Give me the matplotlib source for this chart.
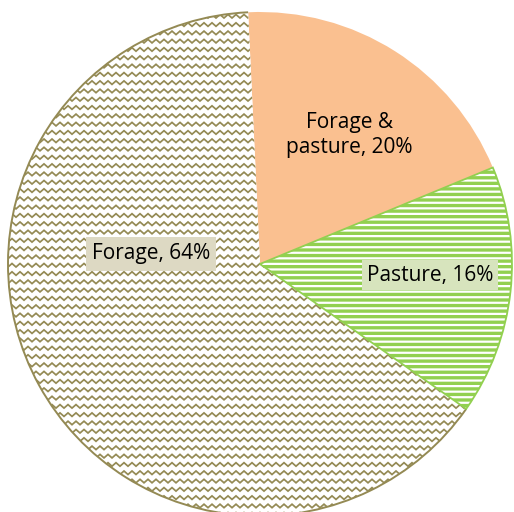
import matplotlib
matplotlib.use("Agg")
import matplotlib.pyplot as plt
import matplotlib.patches as mpatches
import numpy as np

# Data
categories = ["Forage & pasture", "Pasture", "Forage"]
shares = [19.5, 16.0, 64.5]
label_texts = ["Forage &\npasture, 20%", "Pasture, 16%", "Forage, 64%"]

# Styles
c_fp = "#FAC090"
c_past = "#92D050"
c_olive = "#948A54"
c_box_forage = "#DDD9C3"
c_box_past = "#D7E4BD"

plt.rcParams["font.family"] = ["Open Sans", "DejaVu Sans"]
plt.rcParams["hatch.linewidth"] = 1.6

W, H = 514, 512
fig = plt.figure(figsize=(W / 100, H / 100), dpi=100)
ax = fig.add_axes([0, 0, 1, 1])

cx, cy, R = 260, 512 - 264, 252
wedges, _ = ax.pie(shares, startangle=92.7, counterclock=False,
                   center=(cx, cy), radius=R,
                   colors=[c_fp, c_past, "white"],
                   wedgeprops=dict(linewidth=0))
ax.set_xlim(0, W)
ax.set_ylim(0, H)
ax.set_aspect("auto")
ax.axis("off")

w_fp, w_past, w_for = wedges
w_fp.set_edgecolor(c_fp)
w_fp.set_linewidth(0)

# Pasture: green with white horizontal stripes
w_past.set_edgecolor("white")
w_past.set_hatch("---")
w_past.set_linewidth(0)
w_past.set_zorder(1)

# Forage: white with olive zigzag pattern
w_for.set_edgecolor(c_olive)
w_for.set_linewidth(0)
w_for.set_zorder(1)
xs = np.arange(0, W + 8, 4.0)
amp = 3.5
zig = np.where((np.arange(len(xs)) % 2) == 0, 0.0, amp)
for y0 in np.arange(-4, H + 8, 8.3):
    ln, = ax.plot(xs, y0 + zig, color=c_olive, linewidth=1.25, zorder=2,
                  solid_joinstyle="miter")
    ln.set_clip_path(w_for)

# Outline: olive arc for forage, green edge for pasture
arc_for = mpatches.Arc(w_for.center, 2 * w_for.r, 2 * w_for.r,
                       theta1=w_for.theta1, theta2=w_for.theta2,
                       edgecolor=c_olive, linewidth=1.4, zorder=3)
ax.add_patch(arc_for)
outline = mpatches.Wedge(w_past.center, w_past.r, w_past.theta1, w_past.theta2,
                         fill=False, edgecolor=c_past, linewidth=1.3, zorder=4)
ax.add_patch(outline)

# Labels
fs = 15
ax.text(349, 512 - 135, label_texts[0], ha="center", va="center",
        fontsize=fs, color="black", linespacing=1.2, zorder=5)
ax.text(430, 512 - 275, label_texts[1], ha="center", va="center",
        fontsize=fs, color="black", zorder=5,
        bbox=dict(boxstyle="square,pad=0.22", fc=c_box_past, ec="none"))
ax.text(151, 512 - 254, label_texts[2], ha="center", va="center",
        fontsize=fs, color="black", zorder=5,
        bbox=dict(boxstyle="square,pad=0.3", fc=c_box_forage, ec="none"))

fig.savefig("out.png", dpi=100)
